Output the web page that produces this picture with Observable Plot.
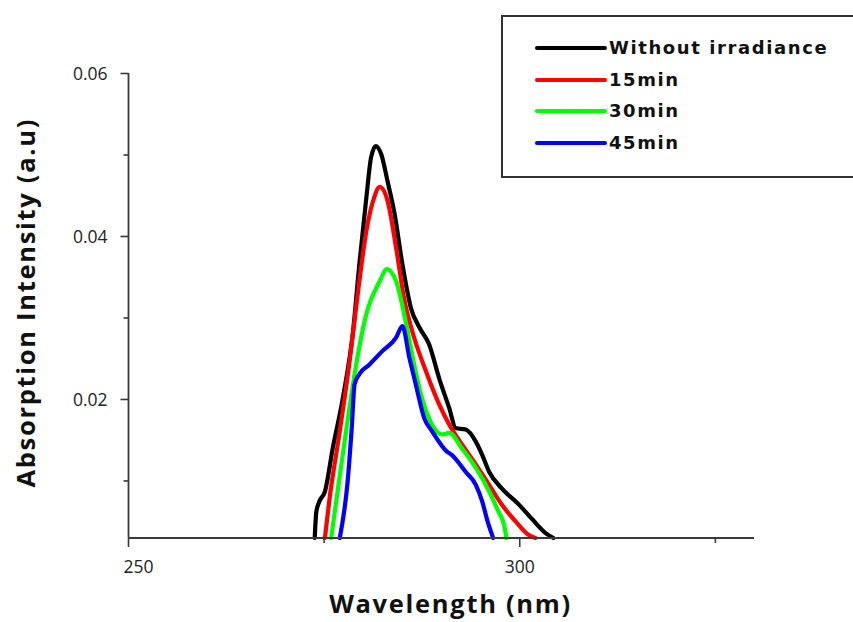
<!DOCTYPE html>
<html>
<head>
<meta charset="utf-8">
<script src="https://cdn.jsdelivr.net/npm/d3@7"></script>
<script src="https://cdn.jsdelivr.net/npm/@observablehq/plot@0.6"></script>
<style>
  html, body { margin: 0; padding: 0; background: #fff; overflow: hidden; }
  #wrap { position: relative; width: 853px; height: 622px; }
  #legend {
    position: absolute; left: 501px; top: 15px; width: 400px; height: 163px;
    border: 2px solid #333; box-sizing: border-box; background: #fff;
  }
  .row { position: absolute; left: 0; height: 24px; }
  .row svg { position: absolute; left: 31px; top: 0; }
  .row span {
    position: absolute; left: 106px; top: 0; line-height: 24px; white-space: nowrap;
    font-family: "DejaVu Sans", sans-serif; font-weight: bold; font-size: 18px;
    letter-spacing: 1.6px; color: #111;
  }
</style>
</head>
<body>
<div id="wrap"><div id="legend"></div></div>
<script>
// ---- data ----
const seriesNames = ["Without irradiance", "15min", "30min", "45min"];
const seriesColors = ["#000000", "#ff0000", "#00ff00", "#0000ff"];

const wlWithout = [273.8, 274.0, 274.4, 275.1, 276.1, 277.4, 278.7, 279.5, 280.4, 281.0, 281.6, 282.3, 283.1, 284.0, 285.0, 286.1, 287.2, 288.4, 289.7, 291.0, 291.8, 293.1, 294.4, 295.2, 296.1, 297.7, 299.9, 301.5, 303.3, 304.3];
const absWithout = [0.0030, 0.0062, 0.0075, 0.0087, 0.0140, 0.0202, 0.0284, 0.0366, 0.0448, 0.0497, 0.0511, 0.0501, 0.0468, 0.0428, 0.0366, 0.0312, 0.0288, 0.0268, 0.0226, 0.0189, 0.0165, 0.0163, 0.0148, 0.0132, 0.0111, 0.0091, 0.0071, 0.0054, 0.0036, 0.0030];

const wl15 = [275.1, 275.7, 277.0, 278.2, 279.5, 280.4, 281.4, 282.1, 283.1, 284.2, 285.2, 286.5, 288.0, 289.7, 291.0, 292.6, 294.4, 296.1, 297.7, 299.5, 301.1, 302.0];
const abs15 = [0.0030, 0.0079, 0.0161, 0.0243, 0.0345, 0.0407, 0.0448, 0.0461, 0.0444, 0.0386, 0.0325, 0.0276, 0.0235, 0.0194, 0.0169, 0.0145, 0.0120, 0.0095, 0.0071, 0.0050, 0.0034, 0.0030];

const wl30 = [275.9, 276.6, 277.8, 279.1, 280.4, 282.1, 283.0, 284.2, 285.5, 286.5, 287.5, 288.8, 290.1, 291.0, 292.6, 294.4, 296.1, 297.3, 298.0, 298.3];
const abs30 = [0.0030, 0.0079, 0.0161, 0.0243, 0.0305, 0.0345, 0.0360, 0.0345, 0.0292, 0.0243, 0.0202, 0.0169, 0.0157, 0.0159, 0.0140, 0.0116, 0.0087, 0.0062, 0.0046, 0.0030];

const wl45 = [277.0, 278.0, 278.5, 278.9, 279.5, 280.8, 282.4, 284.2, 285.0, 285.9, 286.7, 287.8, 288.8, 290.7, 291.3, 293.1, 294.4, 295.2, 295.9, 296.6];
const abs45 = [0.0030, 0.0099, 0.0161, 0.0219, 0.0231, 0.0243, 0.0259, 0.0276, 0.0290, 0.0251, 0.0219, 0.0177, 0.0161, 0.0136, 0.0132, 0.0111, 0.0095, 0.0075, 0.0050, 0.0030];

const xDomain = [250, 330];
const yDomain = [0.003, 0.06];
const xMajorTicks = [250, 300];
const xMinorTicks = [275, 325];
const yMajorTicks = [0.02, 0.04, 0.06];
const yMinorTicks = [0.01, 0.03, 0.05];
const xTitle = "Wavelength (nm)";
const yTitle = "Absorption Intensity (a.u)";

// ---- build ----
const seriesWl = [wlWithout, wl15, wl30, wl45];
const seriesAbs = [absWithout, abs15, abs30, abs45];
const rows = seriesNames.map((name, i) =>
  seriesWl[i].map((w, j) => ({series: name, wl: w, abs: seriesAbs[i][j]})));

const axisColor = "#3a3a3a";
const tickFont = "Open Sans, sans-serif";

// tick-mark symbols (length in px, direction)
const tickLeft = (len) => ({draw(ctx) { ctx.moveTo(0, 0); ctx.lineTo(-len, 0); }});
const tickDown = (len) => ({draw(ctx) { ctx.moveTo(0, 0); ctx.lineTo(0, len); }});

const plot = Plot.plot({
  width: 853,
  height: 622,
  marginLeft: 128,
  marginRight: 99,
  marginTop: 73,
  marginBottom: 84.5,
  style: {fontFamily: tickFont, fontSize: "17.5px", color: "#222", background: "transparent", overflow: "visible"},
  x: {domain: xDomain, axis: null},
  y: {domain: yDomain, axis: null},
  color: {domain: seriesNames, range: seriesColors},
  marks: [
    ...rows.map((r) => Plot.line(r, {x: "wl", y: "abs", stroke: "series", strokeWidth: 4.2, strokeLinejoin: "round", curve: "monotone-x"})),
    Plot.ruleX([xDomain[0]], {stroke: axisColor, strokeWidth: 1.8}),
    Plot.ruleY([yDomain[0]], {stroke: axisColor, strokeWidth: 1.8}),
    Plot.dot(yMajorTicks, {x: () => xDomain[0], y: (d) => d, symbol: tickLeft(8), fill: "none", stroke: axisColor, strokeWidth: 1.6}),
    Plot.dot(yMinorTicks, {x: () => xDomain[0], y: (d) => d, symbol: tickLeft(5), fill: "none", stroke: axisColor, strokeWidth: 1.6}),
    Plot.dot(xMajorTicks, {x: (d) => d, y: () => yDomain[0], symbol: tickDown(9), fill: "none", stroke: axisColor, strokeWidth: 1.6}),
    Plot.dot(xMinorTicks, {x: (d) => d, y: () => yDomain[0], symbol: tickDown(5), fill: "none", stroke: axisColor, strokeWidth: 1.6}),
    Plot.text(yMajorTicks, {y: (d) => d, text: (d) => d.toFixed(2), frameAnchor: "left", lineAnchor: "middle", dx: -21, textAnchor: "end", dy: 1, fill: "#222", fontSize: 17.5}),
    Plot.text(xMajorTicks.slice(0, 1), {x: (d) => d, text: (d) => String(d), frameAnchor: "bottom", lineAnchor: "middle", textAnchor: "middle", dy: 29, dx: 10, fill: "#222", fontSize: 17.5}),
    Plot.text(xMajorTicks.slice(1), {x: (d) => d, text: (d) => String(d), frameAnchor: "bottom", lineAnchor: "middle", textAnchor: "middle", dy: 29, fill: "#222", fontSize: 17.5}),
    Plot.text([xTitle], {text: (d) => d, frameAnchor: "bottom", lineAnchor: "middle", textAnchor: "middle", dy: 67, dx: 9, fontSize: 25.5, fontWeight: "bold", fill: "#111"}),
    Plot.text([yTitle], {text: (d) => d, frameAnchor: "left", lineAnchor: "middle", textAnchor: "middle", dx: -102, dy: -3, rotate: -90, fontSize: 25.5, fontWeight: "bold", fill: "#111"})
  ]
});

d3.select(plot).selectAll("text").filter(function () {
  const t = this.textContent;
  return t === xTitle || t === yTitle;
}).style("letter-spacing", "1.7px");

const wrap = document.getElementById("wrap");
wrap.insertBefore(plot, wrap.firstChild);

// legend
const legend = document.getElementById("legend");
seriesNames.forEach((name, i) => {
  const row = document.createElement("div");
  row.className = "row";
  row.style.top = (19 + i * 31.7) + "px";
  row.innerHTML = `<svg width="74" height="24"><line x1="3" y1="12" x2="71" y2="12" stroke="${seriesColors[i]}" stroke-width="4" stroke-linecap="round"/></svg><span>${name}</span>`;
  legend.appendChild(row);
});
</script>
</body>
</html>
